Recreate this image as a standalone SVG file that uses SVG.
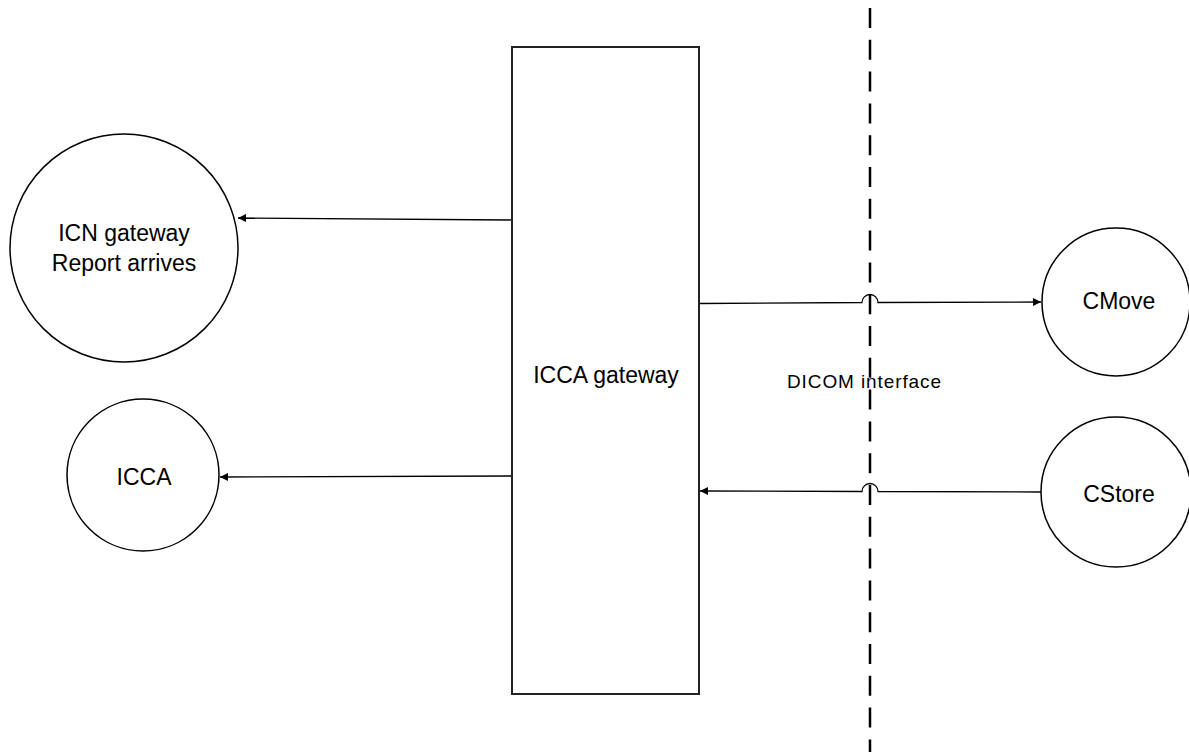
<svg xmlns="http://www.w3.org/2000/svg" width="1189" height="752" viewBox="0 0 1189 752">
  <style>
    .shape { fill: #ffffff; stroke: #000000; stroke-width: 1.5; }
    .box { fill: #ffffff; stroke: #222222; stroke-width: 2; }
    .conn { fill: none; stroke: #000000; stroke-width: 1.3; }
    .label { font-family: "Liberation Sans", Arial, sans-serif; font-size: 23px; fill: #000000; text-anchor: middle; }
    .small { font-family: "Liberation Sans", Arial, sans-serif; font-size: 19px; fill: #000000; text-anchor: middle; }
    .boundary { fill: none; stroke: #000000; stroke-width: 2.5; stroke-dasharray: 20 11.8; }
  </style>
  <defs>
    <marker id="arrow" viewBox="0 0 10 10" refX="10" refY="5" markerWidth="8" markerHeight="8" markerUnits="userSpaceOnUse" orient="auto">
      <path d="M0,0 L10,5 L0,10 Z" fill="#000000"/>
    </marker>
  </defs>
  <rect width="1189" height="752" fill="#ffffff"/>

  <g id="boundary">
    <line class="boundary" x1="870" y1="8" x2="870" y2="752"/>
    <text class="small" x="864" y="388" textLength="154" lengthAdjust="spacing">DICOM interface</text>
  </g>

  <g id="connectors">
    <line class="conn" x1="512" y1="220" x2="238" y2="218" marker-end="url(#arrow)"/>
    <line class="conn" x1="512" y1="476" x2="220" y2="477" marker-end="url(#arrow)"/>
    <path class="conn" d="M700,303.5 L862,302.5 A8,8 0 0 1 878,302.5 L1041,302" marker-end="url(#arrow)"/>
    <path class="conn" d="M1042,492 L878,491.5 A8,8 0 0 0 862,491.5 L700,491" marker-end="url(#arrow)"/>
  </g>

  <g id="icca-gateway">
    <rect class="box" x="512" y="47" width="187" height="647"/>
    <text class="label" x="606" y="383">ICCA gateway</text>
  </g>

  <g id="icn-gateway">
    <circle class="shape" cx="124" cy="248" r="114"/>
    <text class="label" x="124" y="241">ICN gateway</text>
    <text class="label" x="124" y="271">Report arrives</text>
  </g>

  <g id="icca">
    <circle class="shape" cx="143" cy="475" r="76"/>
    <text class="label" x="144" y="485">ICCA</text>
  </g>

  <g id="cmove">
    <circle class="shape" cx="1116" cy="302" r="74"/>
    <text class="label" x="1119" y="309">CMove</text>
  </g>

  <g id="cstore">
    <circle class="shape" cx="1116" cy="492" r="75"/>
    <text class="label" x="1119" y="502">CStore</text>
  </g>
</svg>
